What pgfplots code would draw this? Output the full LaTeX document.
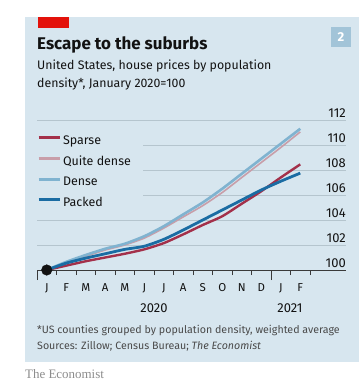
\documentclass[border=0pt]{standalone}
\usepackage{pgfplots}
\pgfplotsset{compat=1.18}
\usepackage{fontspec}
\setmainfont{Fira Sans}
\newfontfamily\econserif{Liberation Serif}
\definecolor{bg}{HTML}{D7E6EF}
\definecolor{ecored}{HTML}{E3120B}
\definecolor{numbox}{HTML}{A2C4D8}
\definecolor{txt}{HTML}{121212}
\definecolor{foot}{HTML}{4A4A4A}
\definecolor{gridc}{HTML}{B5C5CE}
\definecolor{axisc}{HTML}{3A3A3A}
\definecolor{csparse}{HTML}{A3304A}
\definecolor{cquite}{HTML}{C89EA9}
\definecolor{cdense}{HTML}{80B3D0}
\definecolor{cpacked}{HTML}{1A6CA3}
\begin{document}
\begin{tikzpicture}
\useasboundingbox (0,0) rectangle (359bp,-384bp);
\fill[bg] (25bp,-17.3bp) rectangle (359bp,-361.7bp);
\fill[ecored] (37.7bp,-17.3bp) rectangle (69bp,-27.7bp);
\fill[numbox] (331bp,-27bp) rectangle (351bp,-47bp);
\node[text=white, font=\bfseries\fontsize{13}{13}\selectfont, inner sep=0pt] at (341bp,-37bp) {2};
\node[anchor=base west, inner sep=0pt, font=\bfseries\fontsize{17}{17}\selectfont, text=txt] at (37bp,-49bp) {Escape to the suburbs};
\node[anchor=base west, inner sep=0pt, font=\fontsize{12.4}{12.4}\selectfont, text=txt] at (37bp,-69.5bp) {United States, house prices by population};
\node[anchor=base west, inner sep=0pt, font=\fontsize{12.4}{12.4}\selectfont, text=txt] at (37bp,-87.3bp) {density*, January 2020=100};
\begin{axis}[
  at={(37bp,-270bp)}, anchor=south west, scale only axis,
  width=309bp, height=150bp,
  xmin=0, xmax=15.846, ymin=100, ymax=112,
  enlargelimits=false, clip=false,
  /pgf/number format/assume math mode=true,
  axis x line*=bottom, axis y line*=right,
  x axis line style={-, draw=axisc, line width=1bp},
  y axis line style={draw=none},
  ytick={100,102,...,112},
  ymajorgrids, grid style={gridc, line width=1bp},
  ytick style={draw=none},
  yticklabel style={anchor=base east, inner sep=0pt, yshift=3bp, font=\fontsize{13}{13}\selectfont, text=txt},
  xtick={0.5,1.5,...,13.5},
  xticklabels={J,F,M,A,M,J,J,A,S,O,N,D,J,F},
  major tick length=0pt,
  xticklabel style={anchor=base, inner sep=0pt, yshift=-21bp, font=\fontsize{11.5}{11.5}\selectfont, text=txt},
  minor xtick={1,...,11,13,14},
  minor tick length=5bp,
  xtick style={draw=axisc, line width=0.8bp},
  tick align=outside,
  extra x ticks={0,12}, extra x tick labels={},
  extra x tick style={major tick length=10bp, tick align=outside},
  legend style={at={(-0.03883,0.9313)}, anchor=north west, fill=bg, draw=none,
    inner xsep=12bp, inner ysep=5bp, row sep=9.2bp,
    nodes={inner sep=0pt, text height=9bp, text depth=2.5bp},
    font=\fontsize{12.5}{12.5}\selectfont, text=txt,
    /tikz/every odd column/.append style={column sep=1.5bp}},
  legend cell align=left,
  legend image code/.code={\draw[#1, line width=3bp] (0bp,3.5bp) -- (21.3bp,3.5bp);},
]
\addplot[csparse, line width=2.4bp, smooth, tension=0.4, line join=round] coordinates {
(0.5,100) (1.5,100.35) (2.5,100.7) (3.5,101.0) (4.5,101.3) (5.5,101.65) (6.5,102.15)
(7.5,102.85) (8.5,103.6) (9.5,104.3) (10.5,105.3) (11.5,106.3) (12.5,107.4) (13.5,108.45)};
\addlegendentry{Sparse}
\addplot[cquite, line width=1.6bp, smooth, tension=0.4, line join=round] coordinates {
(0.5,100) (1.5,100.6) (2.5,101.1) (3.5,101.6) (4.5,102.0) (5.5,102.55) (6.5,103.35)
(7.5,104.25) (8.5,105.15) (9.5,106.2) (10.5,107.4) (11.5,108.6) (12.5,109.8) (13.5,111.05)};
\addlegendentry{Quite dense}
\addplot[cdense, line width=2.6bp, smooth, tension=0.4, line join=round] coordinates {
(0.5,100) (1.5,100.65) (2.5,101.2) (3.5,101.7) (4.5,102.1) (5.5,102.7) (6.5,103.5)
(7.5,104.45) (8.5,105.4) (9.5,106.5) (10.5,107.7) (11.5,108.9) (12.5,110.1) (13.5,111.3)};
\addlegendentry{Dense}
\addplot[cpacked, line width=2.8bp, smooth, tension=0.4, line join=round] coordinates {
(0.5,100) (1.5,100.55) (2.5,100.95) (3.5,101.3) (4.5,101.65) (5.5,101.9) (6.5,102.45)
(7.5,103.2) (8.5,104.0) (9.5,104.8) (10.5,105.6) (11.5,106.4) (12.5,107.1) (13.5,107.75)};
\addlegendentry{Packed}
\addplot[only marks, mark=*, mark size=5.3bp, color=txt, forget plot] coordinates {(0.5,100)};
\end{axis}
\node[anchor=base, inner sep=0pt, font=\fontsize{13}{13}\selectfont, text=txt] at (154bp,-312bp) {2020};
\node[anchor=base, inner sep=0pt, font=\fontsize{13}{13}\selectfont, text=txt] at (290bp,-312bp) {2021};
\node[anchor=base west, inner sep=0pt, font=\fontsize{10.7}{10.7}\selectfont, text=foot] at (37bp,-333.3bp) {*US counties grouped by population density, weighted average};
\node[anchor=base west, inner sep=0pt, font=\fontsize{10.7}{10.7}\selectfont, text=foot] at (37bp,-349.3bp) {Sources: Zillow; Census Bureau; \textit{The Economist}};
\node[anchor=base west, inner sep=0pt, font=\econserif\fontsize{13}{13}\selectfont, text=black!45] at (25bp,-378bp) {The Economist};
\end{tikzpicture}
\end{document}
